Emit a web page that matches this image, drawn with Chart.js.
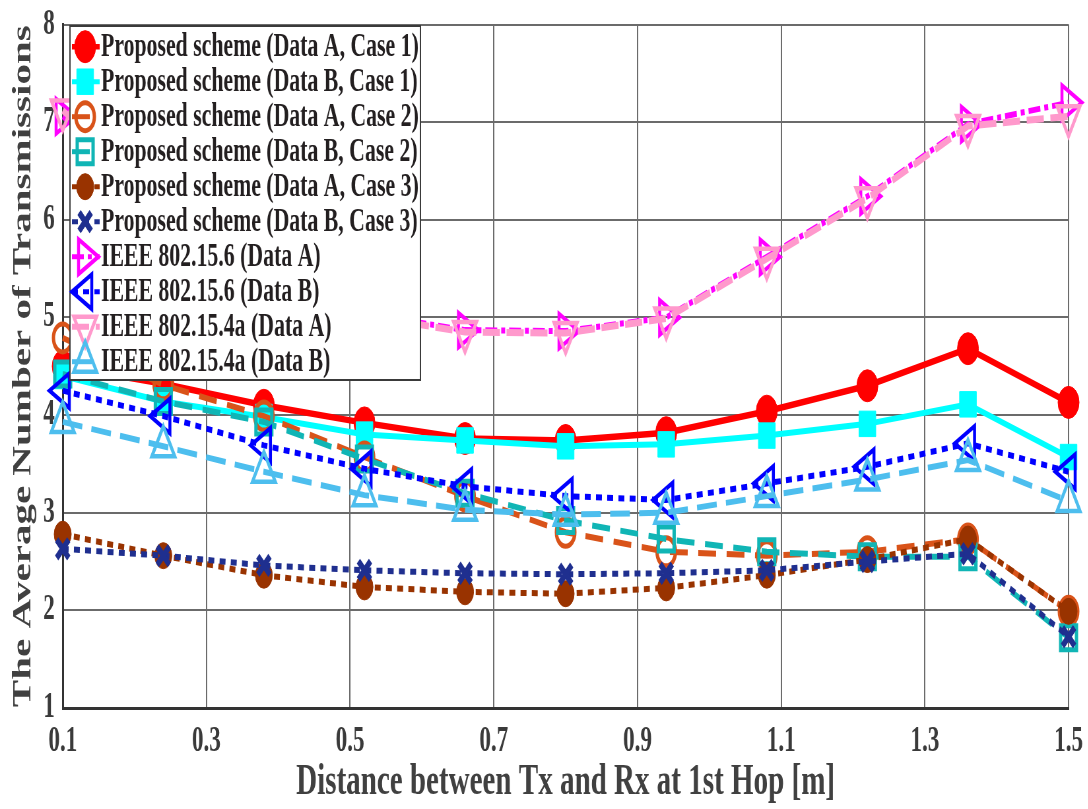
<!DOCTYPE html>
<html>
<head>
<meta charset="utf-8">
<script src="https://cdn.jsdelivr.net/npm/chart.js@4.4.0/dist/chart.umd.min.js"></script>
<style>
  html, body { margin:0; padding:0; background:#fff; overflow:hidden; }
  /* la figura original viene comprimida en horizontal: dibujamos ancho y apretamos */
  #wrap { width:1648px; height:809px; transform:scaleX(0.66); transform-origin:0 0; }
</style>
</head>
<body>
<div id="wrap"><canvas id="chart" width="1648" height="809"></canvas></div>
<script>
// Datos
const xs     = [0.1, 0.24, 0.38, 0.52, 0.66, 0.80, 0.94, 1.08, 1.22, 1.36, 1.50];
const xTicks = [0.1, 0.3, 0.5, 0.7, 0.9, 1.1, 1.3, 1.5];
const yTicks = [1, 2, 3, 4, 5, 6, 7, 8];

const names = [
  'Proposed scheme (Data A, Case 1)',
  'Proposed scheme (Data B, Case 1)',
  'Proposed scheme (Data A, Case 2)',
  'Proposed scheme (Data B, Case 2)',
  'Proposed scheme (Data A, Case 3)',
  'Proposed scheme (Data B, Case 3)',
  'IEEE 802.15.6 (Data A)',
  'IEEE 802.15.6 (Data B)',
  'IEEE 802.15.4a (Data A)',
  'IEEE 802.15.4a (Data B)',
];

const propA1 = [4.50, 4.32, 4.10, 3.92, 3.76, 3.74, 3.82, 4.04, 4.30, 4.68, 4.13];
const propB1 = [4.40, 4.14, 3.98, 3.80, 3.74, 3.68, 3.70, 3.79, 3.91, 4.11, 3.57];
const propA2 = [4.79, 4.31, 3.99, 3.57, 3.17, 2.80, 2.60, 2.56, 2.60, 2.73, 1.99];
const propB2 = [4.42, 4.14, 3.93, 3.55, 3.20, 2.92, 2.73, 2.60, 2.55, 2.55, 1.72];
const propA3 = [2.78, 2.56, 2.36, 2.24, 2.19, 2.17, 2.23, 2.36, 2.52, 2.73, 1.99];
const propB3 = [2.63, 2.56, 2.46, 2.41, 2.38, 2.37, 2.38, 2.41, 2.50, 2.58, 1.73];
const ieee6A = [7.06, 6.20, 5.50, 5.04, 4.87, 4.86, 5.00, 5.62, 6.24, 6.98, 7.20];
const ieee6B = [4.25, 3.99, 3.69, 3.45, 3.27, 3.17, 3.13, 3.30, 3.47, 3.71, 3.42];
const ieee4A = [7.12, 6.18, 5.48, 5.02, 4.85, 4.84, 4.99, 5.60, 6.22, 6.96, 7.06];
const ieee4B = [3.93, 3.68, 3.42, 3.18, 3.03, 2.98, 3.00, 3.17, 3.34, 3.54, 3.12];

// estilos tipo MATLAB
const series = [
  { data: propA1, color:'#FF0000', dash:[],          pt:'circle',   rot:0,   r:16, fill:true,  lw:6.5, pw:1 },
  { data: propB1, color:'#00FFFF', dash:[],          pt:'rect',     rot:0,   r:18, fill:true,  lw:6,   pw:1 },
  { data: propA2, color:'#D95319', dash:[27,16],     pt:'circle',   rot:0,   r:14, fill:false, lw:6,   pw:5 },
  { data: propB2, color:'#10B5B5', dash:[27,16],     pt:'rect',     rot:0,   r:17, fill:false, lw:6,   pw:5 },
  { data: propA3, color:'#993300', dash:[9,8],       pt:'circle',   rot:0,   r:13, fill:true,  lw:6,   pw:1 },
  { data: propB3, color:'#1F2F8F', dash:[9,8],       pt:'crossRot', rot:0,   r:13, fill:false, lw:6,   pw:7 },
  { data: ieee6A, color:'#FF00FF', dash:[18,6,6,6],  pt:'triangle', rot:90,  r:20, fill:false, lw:6,   pw:4.5 },
  { data: ieee6B, color:'#0000FF', dash:[9,8],       pt:'triangle', rot:-90, r:20, fill:false, lw:6,   pw:4.5 },
  { data: ieee4A, color:'#FF99CC', dash:[26,10],     pt:'triangle', rot:180, r:20, fill:false, lw:7,   pw:4.5 },
  { data: ieee4B, color:'#4DBEEE', dash:[30,14],     pt:'triangle', rot:0,   r:20, fill:false, lw:6,   pw:4.5 },
];

const SERIF = '"Liberation Serif", "Times New Roman", serif';
const onTick = v => xTicks.some(t => Math.abs(t - v) < 1e-6);

// Leyenda dentro del area (caja blanca arriba a la izquierda)
const legendBox = {
  id: 'legendBox',
  afterDraw(chart) {
    const ctx = chart.ctx;
    const L = 106, T = 26, R = 637, B = 380;
    ctx.save();
    ctx.fillStyle = '#fff';
    ctx.fillRect(L, T, R - L, B - T);
    ctx.strokeStyle = '#3a3a3a';
    ctx.lineWidth = 2;
    ctx.strokeRect(L, T, R - L, B - T);
    series.forEach((s, i) => {
      const y = 46.7 + i * 35;
      ctx.save();
      ctx.strokeStyle = s.color;
      ctx.lineWidth = s.lw - 1;
      ctx.setLineDash(s.dash);
      ctx.beginPath();
      ctx.moveTo(109, y);
      ctx.lineTo(151, y);
      ctx.stroke();
      ctx.restore();
      ctx.save();
      ctx.strokeStyle = s.color;
      ctx.fillStyle = s.fill ? s.color : 'rgba(0,0,0,0)';
      ctx.lineWidth = s.pw;
      Chart.helpers.drawPoint(ctx, { pointStyle: s.pt, rotation: s.rot, radius: s.r, borderWidth: s.pw }, 129, y);
      ctx.restore();
      ctx.fillStyle = '#231f20';
      ctx.font = 'bold 33px ' + SERIF;
      ctx.textBaseline = 'middle';
      ctx.textAlign = 'left';
      ctx.fillText(names[i], 153, y + 1);
    });
    ctx.restore();
  }
};

new Chart(document.getElementById('chart'), {
  type: 'line',
  data: {
    datasets: series.map((s, i) => ({
      label: names[i],
      data: xs.map((x, j) => ({ x, y: s.data[j] })),
      borderColor: s.color,
      backgroundColor: s.fill ? s.color : 'rgba(0,0,0,0)',
      borderWidth: s.lw,
      borderDash: s.dash,
      borderCapStyle: 'butt',
      pointStyle: s.pt,
      pointRotation: s.rot,
      pointRadius: s.r,
      pointHoverRadius: s.r,
      pointBorderWidth: s.pw,
      pointBorderColor: s.color,
      pointBackgroundColor: s.fill ? s.color : 'rgba(0,0,0,0)',
      tension: 0,
      clip: false,
      order: series.length - 1 - i,
    }))
  },
  options: {
    responsive: false,
    animation: false,
    events: [],
    layout: { padding: { left: 0, right: 29, top: 16, bottom: 0 } },
    plugins: { legend: { display: false }, tooltip: { enabled: false } },
    scales: {
      x: {
        type: 'linear',
        min: 0.1, max: 1.5,
        afterBuildTicks: s => { s.ticks = xTicks.map(v => ({ value: v })); },
        afterFit: s => { s.height = 101; s.paddingLeft = 0; s.paddingRight = 0; },
        grid: { color: '#6b6b6b', lineWidth: 2, drawTicks: false },
        border: { color: '#333', width: 3 },
        ticks: {
          autoSkip: false,
          padding: 13,
          color: '#3a3a3a',
          font: { family: SERIF, size: 35, weight: 'bold' },
          callback: v => onTick(v) ? v.toFixed(1) : null,
          maxRotation: 0,
        },
        title: {
          display: true,
          text: 'Distance between Tx and Rx at 1st Hop [m]',
          color: '#404040',
          font: { family: SERIF, size: 44, weight: 'bold' },
          padding: { top: 0, bottom: 0 },
        }
      },
      y: {
        min: 1, max: 8,
        afterBuildTicks: s => { s.ticks = yTicks.map(v => ({ value: v })); },
        afterFit: s => { s.width = 95; s.paddingTop = 0; s.paddingBottom = 0; },
        grid: { color: '#6b6b6b', lineWidth: 2, drawTicks: false },
        border: { color: '#333', width: 3 },
        ticks: {
          padding: 12,
          color: '#3a3a3a',
          font: { family: SERIF, size: 35, weight: 'bold' },
        },
        title: {
          display: true,
          text: 'The Average Number of Transmissions',
          color: '#404040',
          font: { family: SERIF, size: 41, weight: 'bold' },
          padding: { top: 11, bottom: 0 },
        }
      }
    }
  },
  plugins: [legendBox]
});
</script>
</body>
</html>
